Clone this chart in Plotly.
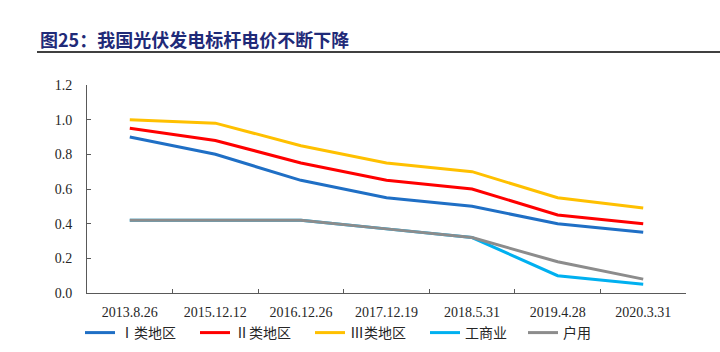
import plotly.graph_objects as go

categories = ["2013.8.26", "2015.12.12", "2016.12.26", "2017.12.19", "2018.5.31", "2019.4.28", "2020.3.31"]
region1 = [0.90, 0.80, 0.65, 0.55, 0.50, 0.40, 0.35]
region2 = [0.95, 0.88, 0.75, 0.65, 0.60, 0.45, 0.40]
region3 = [1.00, 0.98, 0.85, 0.75, 0.70, 0.55, 0.49]
commercial = [0.42, 0.42, 0.42, 0.37, 0.32, 0.10, 0.05]
household = [0.42, 0.42, 0.42, 0.37, 0.32, 0.18, 0.08]
series_names = ["Ⅰ类地区", "Ⅱ类地区", "Ⅲ类地区", "工商业", "户用"]
series_values = [region1, region2, region3, commercial, household]
colors = ["#1F6FC5", "#FF0000", "#FFC000", "#00B0F0", "#8C8C8C"]
yticks = [0.0, 0.2, 0.4, 0.6, 0.8, 1.0, 1.2]

serif = "Liberation Serif"
cjk = "Noto Sans CJK SC"

L, R, T, B = 87, 34, 85, 59
PW, PH = 720 - L - R, 352 - T - B

legend_line_starts = [85, 200, 315, 430, 528]
legend_ids = ["legend", "legend2", "legend3", "legend4", "legend5"]

fig = go.Figure()
for name, vals, c, lid in zip(series_names, series_values, colors, legend_ids):
    fig.add_trace(go.Scatter(x=categories, y=vals, name=name, mode="lines",
                             line=dict(color=c, width=3), legend=lid))

layout_legends = {}
for lid, px in zip(legend_ids, legend_line_starts):
    layout_legends[lid] = dict(orientation="h", x=(px - 5 - L) / PW, xanchor="left",
                               y=-(333 - (352 - B)) / PH, yanchor="middle",
                               font=dict(family=cjk, size=14, color="#262626"),
                               bgcolor="rgba(0,0,0,0)", borderwidth=0)

fig.update_layout(
    width=720, height=352,
    margin=dict(l=L, r=R, t=T, b=B, autoexpand=False),
    paper_bgcolor="white", plot_bgcolor="white",
    font=dict(family=serif, size=14, color="#262626"),
    showlegend=True,
    xaxis=dict(type="category", range=[-0.5, 6.5], showline=True, linecolor="#595959", linewidth=1,
               ticks="inside", ticklen=4, tickcolor="#595959", tickson="boundaries",
               ticklabelstandoff=6,
               showgrid=False, zeroline=False, tickfont=dict(family=serif, size=14, color="#262626")),
    yaxis=dict(range=[0, 1.2], tickvals=yticks, tickformat=".1f", showline=True, linecolor="#595959",
               linewidth=1, ticks="inside", ticklen=4, tickcolor="#595959", showgrid=False,
               ticklabelstandoff=11,
               zeroline=False, tickfont=dict(family=serif, size=14, color="#262626")),
    **layout_legends,
)

fig.add_annotation(text="<b>图25：我国光伏发电标杆电价不断下降</b>", xref="paper", yref="paper",
                   x=(38 - L) / PW, xanchor="left", y=1.0 + (T - 39) / PH, yanchor="middle", showarrow=False,
                   font=dict(family=cjk, size=18, color="#1F2A78"))
fig.add_shape(type="line", xref="paper", yref="paper",
              x0=(37 - L) / PW, x1=(720 - L) / PW, y0=1.0 + (T - 52) / PH, y1=1.0 + (T - 52) / PH,
              line=dict(color="#404040", width=2))

fig.write_html("out.html")
